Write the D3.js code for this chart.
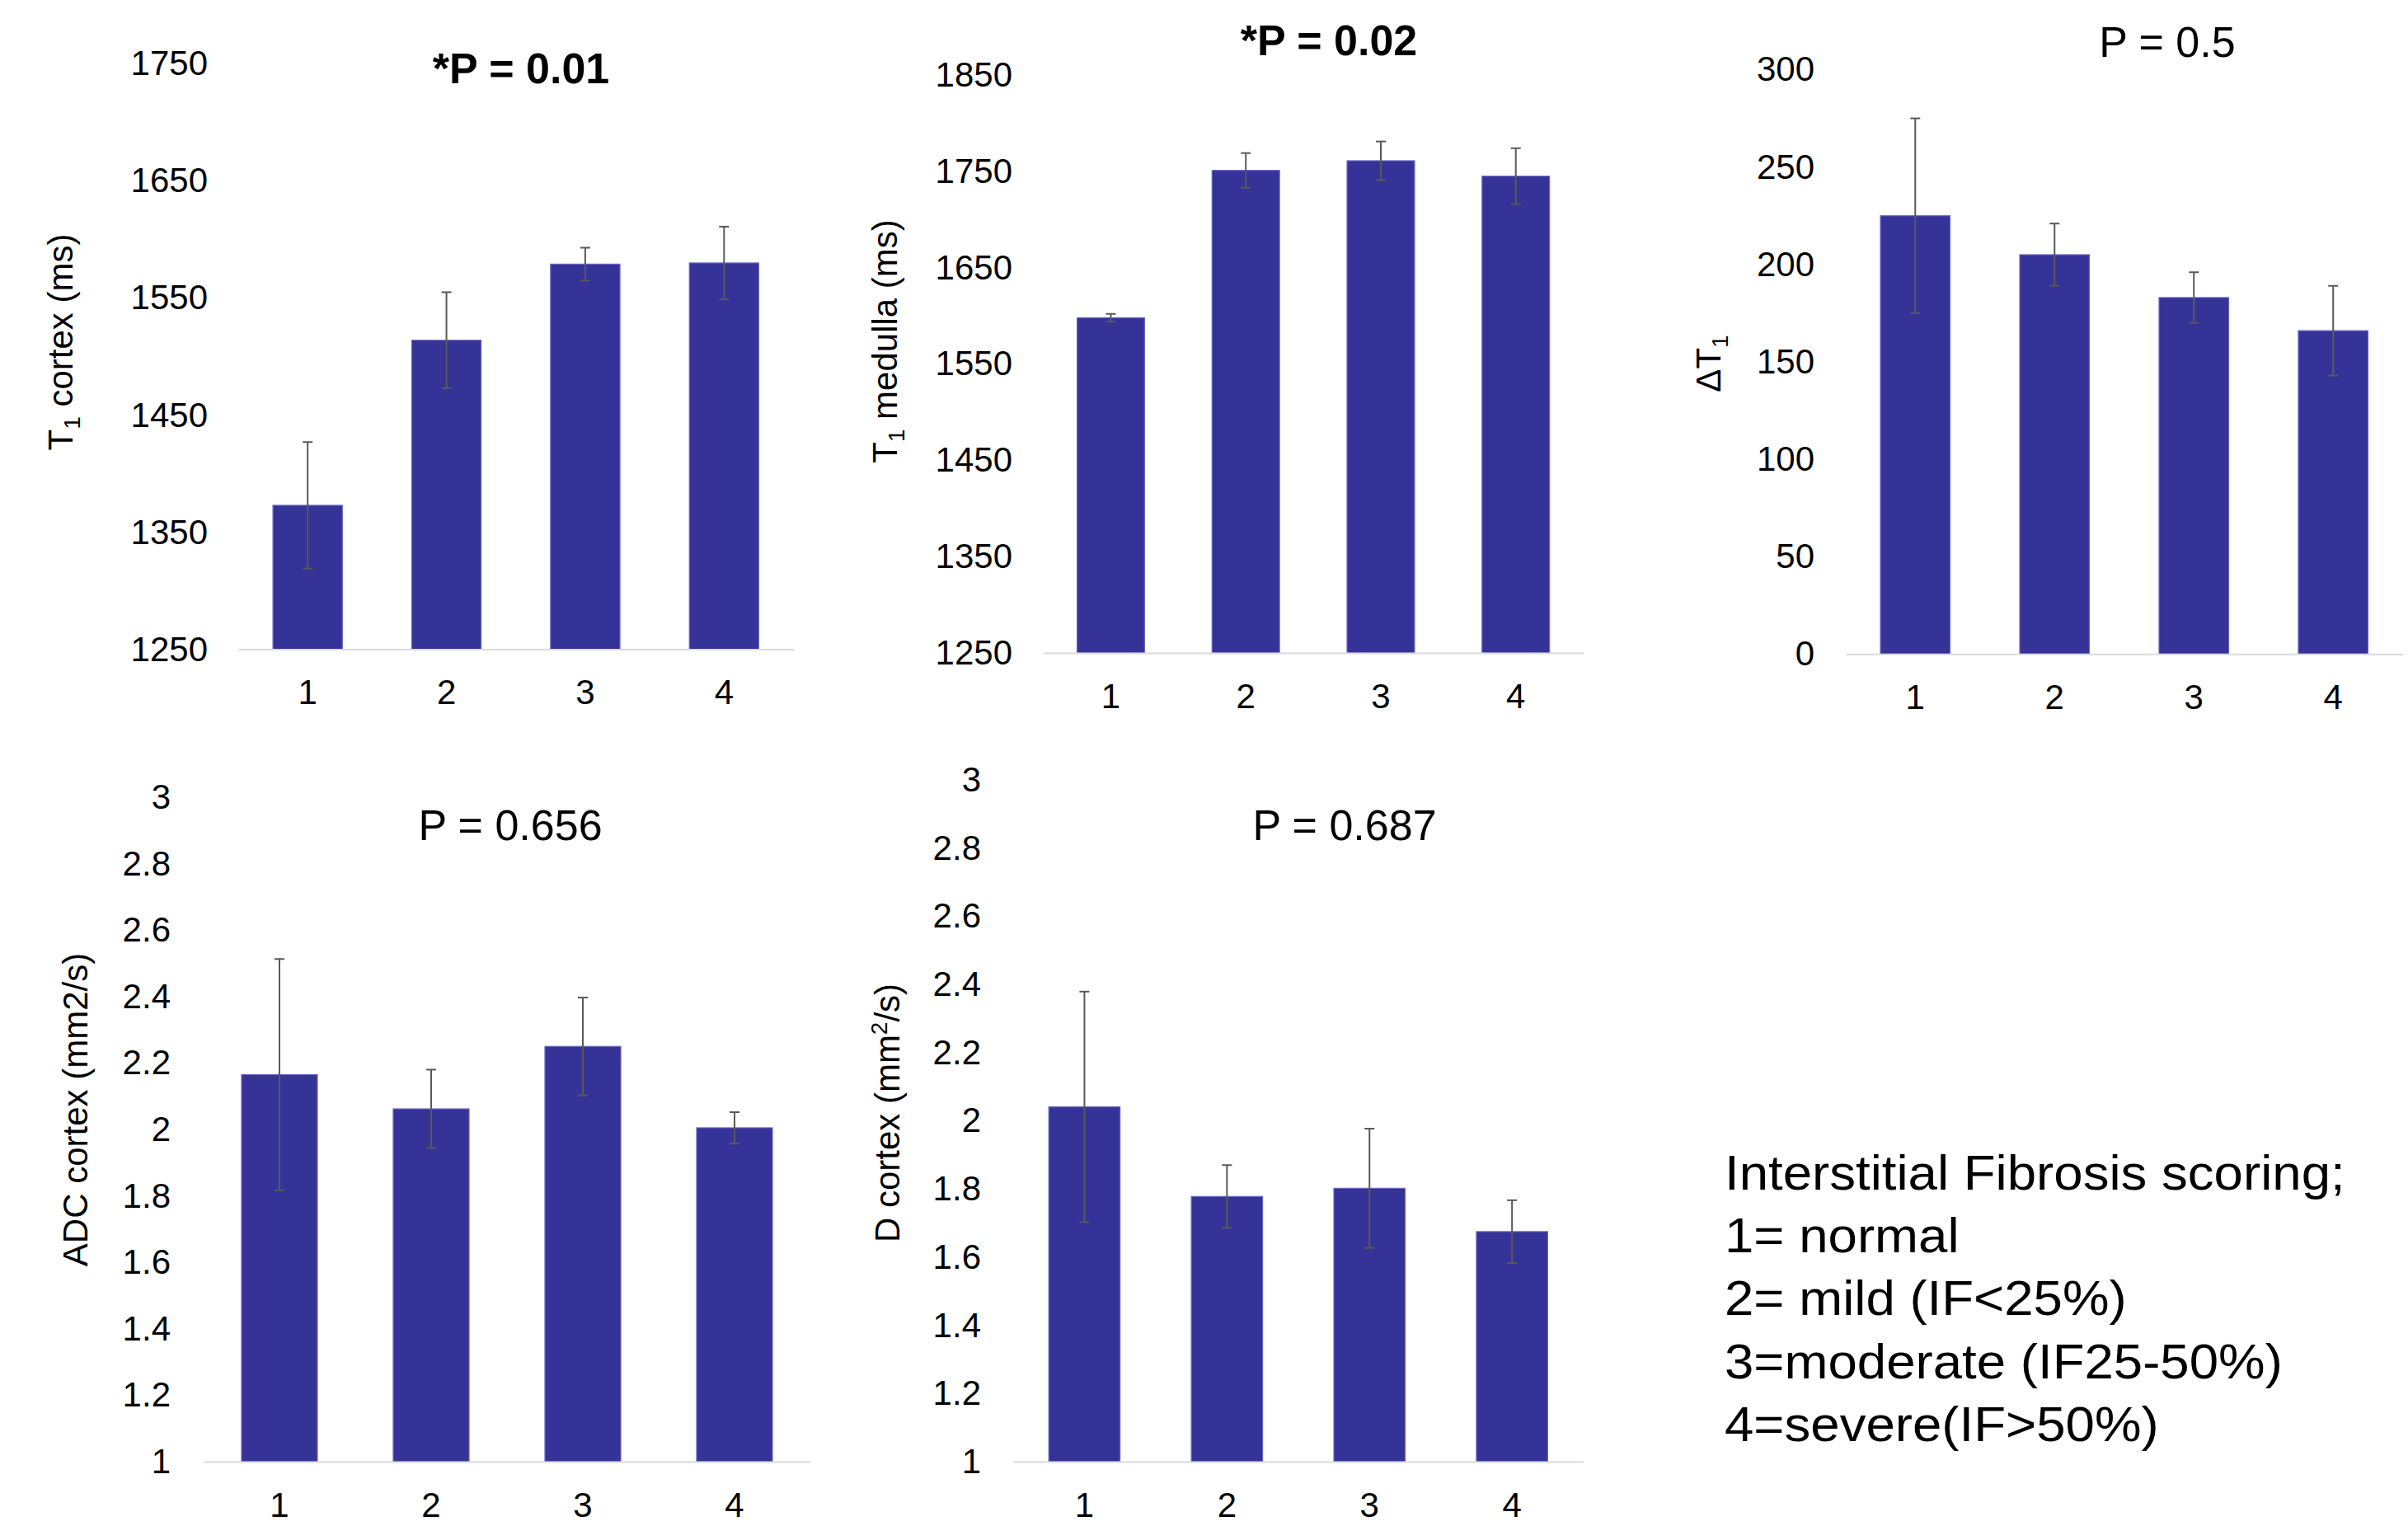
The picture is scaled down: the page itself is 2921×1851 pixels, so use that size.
<!DOCTYPE html>
<html>
<head>
<meta charset="utf-8">
<script src="https://cdn.jsdelivr.net/npm/d3@7"></script>
<style>
  html, body { margin: 0; padding: 0; background: #ffffff; }
  svg { display: block; }
  text { font-family: "Liberation Sans", Arial, sans-serif; fill: #000; }
</style>
</head>
<body>
<svg id="fig" width="2921" height="1851"></svg>
<script>
// Fibrosis grade groups (x categories, shared by every panel)
const categories = ["1", "2", "3", "4"];

// Panel values: group means and error (half-length of each error bar)
const t1CortexMean = [1373, 1514, 1579, 1580];
const t1CortexErr  = [54, 41, 14, 31];
const t1MedullaMean = [1598, 1751, 1761, 1745];
const t1MedullaErr  = [4, 18, 20, 29];
const deltaT1Mean = [225, 205, 183, 166];
const deltaT1Err  = [50, 16, 13, 23];
const adcCortexMean = [2.165, 2.062, 2.25, 2.005];
const adcCortexErr  = [0.348, 0.118, 0.147, 0.047];
const dCortexMean = [2.041, 1.778, 1.802, 1.675];
const dCortexErr  = [0.338, 0.092, 0.175, 0.092];

// Y tick labels
const t1CortexTicks  = [1250, 1350, 1450, 1550, 1650, 1750];
const t1MedullaTicks = [1250, 1350, 1450, 1550, 1650, 1750, 1850];
const deltaT1Ticks   = [0, 50, 100, 150, 200, 250, 300];
const diffusionTicks = [1, 1.2, 1.4, 1.6, 1.8, 2, 2.2, 2.4, 2.6, 2.8, 3];

// Panel headings (P values)
const pLabels = ["*P = 0.01", "*P = 0.02", "P = 0.5", "P = 0.656", "P = 0.687"];

// Scoring key
const legendLines = [
  "Interstitial Fibrosis scoring;",
  "1= normal",
  "2= mild (IF<25%)",
  "3=moderate (IF25-50%)",
  "4=severe(IF>50%)"
];

const BAR_FILL = "#353397";
const BAR_EDGE = "#6767c4";
const ERR_COLOR = "#595959";
const AXIS_COLOR = "#d9d9d9";
const FONT = 42;

const svg = d3.select("#fig");

// Axis-label builders (sub/superscripts as tspans)
function labelT1(text) {
  return t => {
    t.append("tspan").text("T");
    t.append("tspan").attr("font-size", 28).attr("dy", 9).text("1");
    t.append("tspan").attr("dy", -9).text(text);
  };
}
function labelDelta(t) {
  t.append("tspan").text("\u0394T");
  t.append("tspan").attr("font-size", 28).attr("dy", 9).text("1");
}
function labelPlain(text) { return t => t.text(text); }
function labelD(t) {
  t.append("tspan").text("D cortex (mm");
  t.append("tspan").attr("font-size", 28).attr("dy", -15).text("2");
  t.append("tspan").attr("dy", 15).text("/s)");
}

const panels = [
  { mean: t1CortexMean, err: t1CortexErr, ticks: t1CortexTicks, domain: [1250, 1750],
    left: 289, right: 962.5, base: 787.6, top: 77.5, tickRight: 252,
    title: pLabels[0], tx: 632, ty: 101, bold: true,
    lx: 88, ly: 415, label: labelT1(" cortex (ms)") },
  { mean: t1MedullaMean, err: t1MedullaErr, ticks: t1MedullaTicks, domain: [1250, 1850],
    left: 1265.6, right: 1920.6, base: 792, top: 91, tickRight: 1228,
    title: pLabels[1], tx: 1612, ty: 67, bold: true,
    lx: 1088, ly: 414, label: labelT1(" medulla (ms)") },
  { mean: deltaT1Mean, err: deltaT1Err, ticks: deltaT1Ticks, domain: [0, 300],
    left: 2238.8, right: 2914.7, base: 793.3, top: 84.5, tickRight: 2201,
    title: pLabels[2], tx: 2629, ty: 69, bold: false,
    lx: 2087, ly: 441, label: labelDelta },
  { mean: adcCortexMean, err: adcCortexErr, ticks: diffusionTicks, domain: [1, 3],
    left: 247, right: 983, base: 1773, top: 967, tickRight: 207,
    title: pLabels[3], tx: 619, ty: 1019, bold: false,
    lx: 106, ly: 1346, label: labelPlain("ADC cortex (mm2/s)") },
  { mean: dCortexMean, err: dCortexErr, ticks: diffusionTicks, domain: [1, 3],
    left: 1229, right: 1920.6, base: 1773, top: 946, tickRight: 1190,
    title: pLabels[4], tx: 1631, ty: 1019, bold: false,
    lx: 1091, ly: 1350, label: labelD }
];

panels.forEach(p => {
  const g = svg.append("g");
  const x = d3.scaleBand().domain(categories).range([p.left, p.right])
    .paddingInner(0.5).paddingOuter(0.25);
  const y = d3.scaleLinear().domain(p.domain).range([p.base, p.top]);
  const rows = categories.map((c, i) => ({ c, v: p.mean[i], e: p.err[i] }));

  // value axis: labels only
  const ya = g.append("g").attr("transform", `translate(${p.left},0)`)
    .call(d3.axisLeft(y).tickValues(p.ticks).tickSize(0)
      .tickPadding(p.left - p.tickRight).tickFormat(d => String(d)));
  ya.select(".domain").remove();
  ya.selectAll("text").attr("font-size", FONT)
    .attr("font-family", "Liberation Sans, Arial, sans-serif").attr("fill", "#000");

  // bars
  g.selectAll("rect.bar").data(rows).join("rect").attr("class", "bar")
    .attr("x", d => x(d.c)).attr("width", x.bandwidth())
    .attr("y", d => y(d.v)).attr("height", d => y(p.domain[0]) - y(d.v))
    .attr("fill", BAR_FILL).attr("stroke", BAR_EDGE).attr("stroke-width", 1.2);

  // category axis line and labels
  const xa = g.append("g").attr("transform", `translate(0,${p.base})`)
    .call(d3.axisBottom(x).tickSize(0).tickPadding(37));
  xa.select(".domain").attr("stroke", AXIS_COLOR).attr("stroke-width", 2);
  xa.selectAll("text").attr("font-size", FONT)
    .attr("font-family", "Liberation Sans, Arial, sans-serif").attr("fill", "#000");

  // error bars
  const cx = d => x(d.c) + x.bandwidth() / 2;
  const eb = g.selectAll("g.err").data(rows).join("g").attr("class", "err")
    .attr("stroke", ERR_COLOR).attr("stroke-width", 2);
  eb.append("line").attr("x1", cx).attr("x2", cx)
    .attr("y1", d => y(d.v + d.e)).attr("y2", d => y(d.v - d.e));
  eb.append("line").attr("x1", d => cx(d) - 6).attr("x2", d => cx(d) + 6)
    .attr("y1", d => y(d.v + d.e)).attr("y2", d => y(d.v + d.e));
  eb.append("line").attr("x1", d => cx(d) - 6).attr("x2", d => cx(d) + 6)
    .attr("y1", d => y(d.v - d.e)).attr("y2", d => y(d.v - d.e));

  // heading
  g.append("text").attr("x", p.tx).attr("y", p.ty).attr("text-anchor", "middle")
    .attr("font-size", 52).attr("font-weight", p.bold ? "bold" : "normal")
    .text(p.title);

  // rotated value-axis title
  const lt = g.append("text").attr("text-anchor", "middle").attr("font-size", FONT)
    .attr("transform", `translate(${p.lx},${p.ly}) rotate(-90)`);
  p.label(lt);
});

// scoring key
const key = svg.append("g").attr("transform", "translate(2092,1442.7) scale(1.06,1)");
key.selectAll("text").data(legendLines).join("text")
  .attr("x", 0).attr("y", (d, i) => i * 76.4)
  .attr("font-size", 60).text(d => d);
</script>
</body>
</html>
